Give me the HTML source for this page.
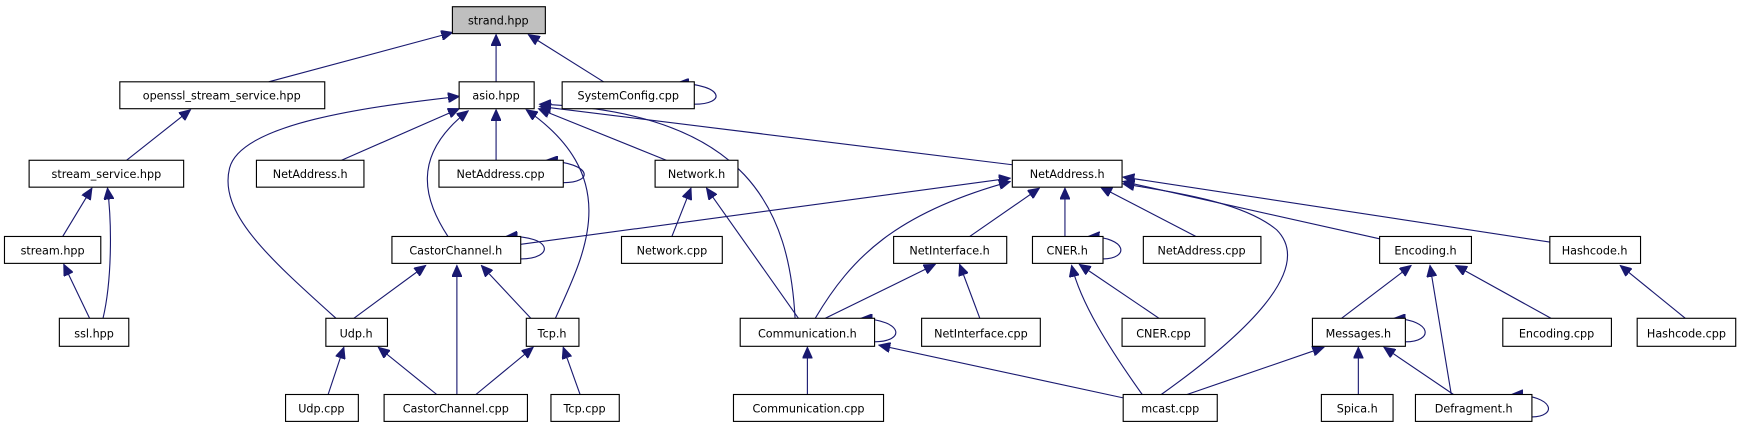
<!DOCTYPE html>
<html><head><meta charset="utf-8"><style>
html,body{margin:0;padding:0;background:#fff;}
svg{display:block;}
text{font-family:"DejaVu Sans","Liberation Sans",sans-serif;font-size:10px;fill:#000;text-anchor:middle;}
rect{fill:#fff;stroke:#000;stroke-width:1;}
path,line{stroke:#191970;stroke-width:1;fill:none;}
</style></head><body>
<svg width="1757" height="427" viewBox="0 0 1569 381" preserveAspectRatio="none" xmlns="http://www.w3.org/2000/svg">
<defs><marker id="a" markerUnits="userSpaceOnUse" markerWidth="11" markerHeight="9" refX="10" refY="4.5" orient="auto"><path d="M0,0 L10,4.5 L0,9 Z" style="fill:#191970;stroke:#191970"/></marker></defs>
<g marker-end="url(#a)">
<line x1="240" y1="73" x2="404" y2="29"/>
<line x1="443" y1="73" x2="443" y2="31"/>
<line x1="539" y1="73" x2="472" y2="31"/>
<path d="M620,93 C648,93 648,76 605,74"/>
<line x1="113" y1="143" x2="170" y2="98"/>
<line x1="56" y1="211" x2="82" y2="168"/>
<line x1="80" y1="284" x2="57" y2="236"/>
<path d="M92,284 C100,250 100,200 96,168"/>
<path d="M300,284 C240,230 195,190 205,150 C215,110 330,95 410,86"/>
<line x1="305" y1="143" x2="410" y2="97"/>
<path d="M400,211 C380,180 365,140 418,99"/>
<line x1="443" y1="143" x2="443" y2="98"/>
<path d="M496,284 C520,230 560,160 470,98"/>
<line x1="595" y1="143" x2="481" y2="97"/>
<path d="M710,284 C705,190 670,100 482,93"/>
<line x1="904" y1="147" x2="482" y2="95"/>
<path d="M503,163 C530,163 530,146 488,143"/>
<line x1="465" y1="218" x2="902" y2="159"/>
<path d="M465,231 C495,231 495,210 452,211"/>
<line x1="600" y1="211" x2="617" y2="168"/>
<line x1="713" y1="284" x2="631" y2="168"/>
<path d="M728,284 C760,230 800,190 902,162"/>
<line x1="866" y1="211" x2="928" y2="168"/>
<line x1="951" y1="211" x2="951" y2="168"/>
<line x1="1068" y1="211" x2="983" y2="167"/>
<path d="M1037,352 C1110,300 1175,240 1140,205 C1110,180 1050,172 1003,164"/>
<line x1="1236" y1="214" x2="1003" y2="162"/>
<line x1="1384" y1="216" x2="1003" y2="158"/>
<line x1="737" y1="284" x2="835" y2="236"/>
<path d="M781,305 C808,305 808,286 769,284"/>
<line x1="875" y1="284" x2="857" y2="236"/>
<path d="M985,231 C1008,231 1008,212 972,211"/>
<line x1="1035" y1="284" x2="964" y2="236"/>
<path d="M1020,352 C990,310 965,270 957,237"/>
<line x1="721" y1="352" x2="721" y2="310"/>
<line x1="1003" y1="355" x2="785" y2="308"/>
<line x1="1198" y1="284" x2="1260" y2="237"/>
<line x1="1385" y1="284" x2="1300" y2="237"/>
<line x1="1296" y1="352" x2="1277" y2="237"/>
<line x1="1505" y1="284" x2="1447" y2="237"/>
<line x1="1060" y1="352" x2="1182" y2="310"/>
<line x1="1213" y1="352" x2="1213" y2="310"/>
<line x1="1298" y1="352" x2="1236" y2="310"/>
<path d="M1255,305 C1280,305 1280,286 1245,284"/>
<path d="M1368,372 C1390,372 1390,353 1350,352"/>
<line x1="316" y1="284" x2="380" y2="237"/>
<line x1="408" y1="352" x2="408" y2="237"/>
<line x1="474" y1="284" x2="430" y2="237"/>
<line x1="293" y1="352" x2="307" y2="310"/>
<line x1="390" y1="352" x2="338" y2="310"/>
<line x1="425" y1="352" x2="476" y2="310"/>
<line x1="518" y1="352" x2="503" y2="310"/>
</g>
<rect x="404" y="6" width="83" height="24" style="fill:#bfbfbf"/><text x="445" y="22">strand.hpp</text>
<rect x="107" y="73" width="183" height="24"/><text x="198" y="89">openssl_stream_service.hpp</text>
<rect x="410" y="73" width="67" height="24"/><text x="443" y="89">asio.hpp</text>
<rect x="502" y="73" width="118" height="24"/><text x="561" y="89">SystemConfig.cpp</text>
<rect x="26" y="143" width="138" height="24"/><text x="95" y="159">stream_service.hpp</text>
<rect x="229" y="143" width="96" height="24"/><text x="277" y="159">NetAddress.h</text>
<rect x="392" y="143" width="111" height="24"/><text x="447" y="159">NetAddress.cpp</text>
<rect x="585" y="143" width="74" height="24"/><text x="622" y="159">Network.h</text>
<rect x="904" y="143" width="98" height="24"/><text x="953" y="159">NetAddress.h</text>
<rect x="4" y="211" width="86" height="24"/><text x="47" y="227">stream.hpp</text>
<rect x="350" y="211" width="115" height="24"/><text x="407" y="227">CastorChannel.h</text>
<rect x="555" y="211" width="90" height="24"/><text x="600" y="227">Network.cpp</text>
<rect x="798" y="211" width="101" height="24"/><text x="848" y="227">NetInterface.h</text>
<rect x="922" y="211" width="63" height="24"/><text x="953" y="227">CNER.h</text>
<rect x="1021" y="211" width="105" height="24"/><text x="1073" y="227">NetAddress.cpp</text>
<rect x="1232" y="211" width="82" height="24"/><text x="1273" y="227">Encoding.h</text>
<rect x="1384" y="211" width="81" height="24"/><text x="1424" y="227">Hashcode.h</text>
<rect x="53" y="284" width="62" height="25"/><text x="84" y="301">ssl.hpp</text>
<rect x="291" y="284" width="55" height="25"/><text x="318" y="301">Udp.h</text>
<rect x="470" y="284" width="47" height="25"/><text x="493" y="301">Tcp.h</text>
<rect x="661" y="284" width="120" height="25"/><text x="721" y="301">Communication.h</text>
<rect x="823" y="284" width="106" height="25"/><text x="876" y="301">NetInterface.cpp</text>
<rect x="1002" y="284" width="74" height="25"/><text x="1039" y="301">CNER.cpp</text>
<rect x="1172" y="284" width="83" height="25"/><text x="1213" y="301">Messages.h</text>
<rect x="1342" y="284" width="97" height="25"/><text x="1390" y="301">Encoding.cpp</text>
<rect x="1462" y="284" width="88" height="25"/><text x="1506" y="301">Hashcode.cpp</text>
<rect x="255" y="352" width="65" height="24"/><text x="287" y="368">Udp.cpp</text>
<rect x="343" y="352" width="128" height="24"/><text x="407" y="368">CastorChannel.cpp</text>
<rect x="492" y="352" width="61" height="24"/><text x="522" y="368">Tcp.cpp</text>
<rect x="655" y="352" width="134" height="24"/><text x="722" y="368">Communication.cpp</text>
<rect x="1003" y="352" width="84" height="24"/><text x="1045" y="368">mcast.cpp</text>
<rect x="1180" y="352" width="64" height="24"/><text x="1212" y="368">Spica.h</text>
<rect x="1264" y="352" width="104" height="24"/><text x="1316" y="368">Defragment.h</text>
</svg>
</body></html>
